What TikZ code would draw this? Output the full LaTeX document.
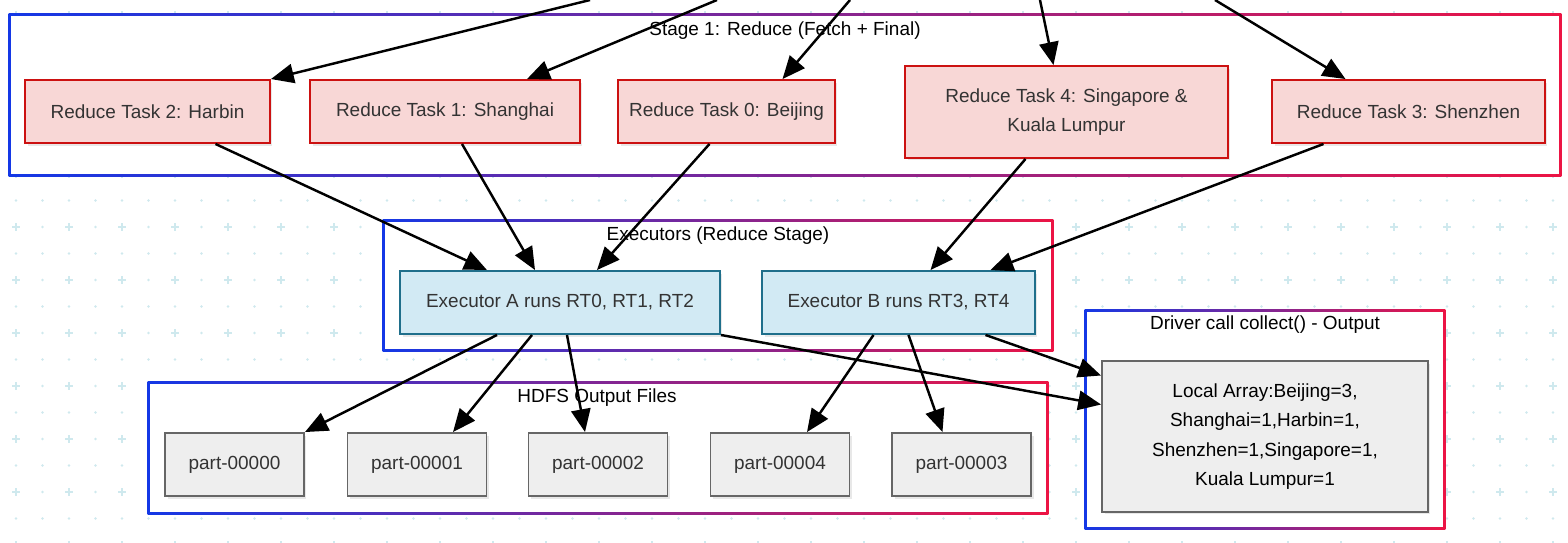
\documentclass[tikz,border=0pt]{standalone}
\usepackage{fontspec}
\setmainfont{Liberation Sans}
\usepackage{tikz}
\usetikzlibrary{calc, arrows.meta, shadows}

\definecolor{redfill}{HTML}{F8D7D6}
\definecolor{reddraw}{HTML}{CC1111}
\definecolor{bluefill}{HTML}{D2EAF4}
\definecolor{bluedraw}{HTML}{1F6F8B}
\definecolor{greyfill}{HTML}{EEEEEE}
\definecolor{greydraw}{HTML}{666666}
\definecolor{grpL}{HTML}{1438E6}
\definecolor{grpR}{HTML}{EC1444}
\definecolor{gridc}{HTML}{CFE9EE}
\definecolor{txt}{HTML}{333333}

\tikzset{
  box/.style={draw, line width=1.1pt, align=center, text=txt, inner sep=0pt,
    font=\fontsize{10.8}{16.7}\selectfont,
    drop shadow={opacity=0.18, shadow xshift=0.05cm, shadow yshift=-0.05cm}},
  rtask/.style={box, fill=redfill, draw=reddraw, minimum height=1.26cm},
  exec/.style={box, fill=bluefill, draw=bluedraw, minimum height=1.26cm},
  file/.style={box, fill=greyfill, draw=greydraw, minimum width=2.78cm, minimum height=1.26cm},
  grptitle/.style={font=\fontsize{10.8}{13}\selectfont, inner sep=0pt},
  arr/.style={line width=1.4pt, -{Triangle[length=13pt, width=11pt]}}
}

% gradient framed group: corners in px
\newcommand{\grpframe}[4]{%
  \shade[left color=grpL, right color=grpR] (#1-1.3,#2-1.3) rectangle (#3+1.3,#4+1.3);
  \fill[white] (#1+1.3,#2+1.3) rectangle (#3-1.3,#4-1.3);
}

\begin{document}
\begin{tikzpicture}[x=0.02cm, y=-0.02cm]
            \useasboundingbox (0,0) rectangle (1568,542);
            \fill[white] (0,0) rectangle (1568,542);
            % background grid
            \foreach \i in {0,...,59}{
              \foreach \j in {0,...,20}{
                \ifodd\i \fill[gridc] (16+26.5*\i,15+26.5*\j) circle (1.4);
                \else\ifodd\j \fill[gridc] (16+26.5*\i,15+26.5*\j) circle (1.4);
                \else \draw[gridc, line width=1.3pt] (12+26.5*\i,15+26.5*\j) -- (20+26.5*\i,15+26.5*\j)
                        (16+26.5*\i,11+26.5*\j) -- (16+26.5*\i,19+26.5*\j);
                \fi\fi
              }
            }
            % groups
            \grpframe{10}{15}{1560}{175}
            \grpframe{384}{221}{1052}{350}
            \grpframe{149}{383}{1047}{513}
            \grpframe{1086}{311}{1444}{528}
            \node[grptitle] (t_stage) at (785,31) {Stage 1: Reduce (Fetch + Final)};
            \node[grptitle] (t_exec) at (718,236) {Executors (Reduce Stage)};
            \node[grptitle] (t_hdfs) at (597,398) {HDFS Output Files};
            \node[grptitle] (t_drv) at (1265,325) {Driver call collect() - Output};
            % reduce tasks
            \node[rtask, minimum width=4.9cm] (hb) at (147.5,111.5) {Reduce Task 2: Harbin};
            \node[rtask, minimum width=5.4cm] (sh) at (445,111.5) {Reduce Task 1: Shanghai};
            \node[rtask, minimum width=4.34cm] (bj) at (726.5,111.5) {Reduce Task 0: Beijing};
            \node[rtask, minimum width=6.46cm, minimum height=1.84cm] (sg) at (1066.5,112) {Reduce Task 4: Singapore \&\\ Kuala Lumpur};
            \node[rtask, minimum width=5.46cm] (sz) at (1408.5,111.5) {Reduce Task 3: Shenzhen};
            % executors
            \node[exec, minimum width=6.4cm] (exa) at (560,302.5) {Executor A runs RT0, RT1, RT2};
            \node[exec, minimum width=5.46cm] (exb) at (898.5,302.5) {Executor B runs RT3, RT4};
            % output files
            \node[file] (p0) at (234.5,464.5) {part-00000};
            \node[file] (p1) at (417,464.5) {part-00001};
            \node[file] (p2) at (598,464.5) {part-00002};
            \node[file] (p4) at (780,464.5) {part-00004};
            \node[file] (p3) at (961.5,464.5) {part-00003};
            % driver result
            \node[box, fill=greyfill, draw=greydraw, text=black, minimum width=6.52cm, minimum height=3.02cm] (la) at (1265,436.5)
              {Local Array:Beijing=3,\\ Shanghai=1,Harbin=1,\\ Shenzhen=1,Singapore=1,\\ Kuala Lumpur=1};
            % incoming from the map stage (off picture)
            \coordinate (s0) at (590,0);
            \coordinate (s1) at (717,0);
            \coordinate (s2) at (850,0);
            \coordinate (s3) at (1040,0);
            \coordinate (s4) at (1215,0);
            \draw[arr] (s0) -- (hb.north east);
            \draw[arr] (s1) -- ($(sh.north)+(82,0)$);
            \draw[arr] (s2) -- ($(bj.north)+(56,0)$);
            \draw[arr] (s3) -- ($(sg.north)+(-13,0)$);
            \draw[arr] (s4) -- ($(sz.north)+(-63,0)$);
            % tasks to executors
            \draw[arr] ($(hb.south)+(68,0)$) -- ($(exa.north)+(-73,0)$);
            \draw[arr] ($(sh.south)+(17,0)$) -- ($(exa.north)+(-25,0)$);
            \draw[arr] ($(bj.south)+(-17,0)$) -- ($(exa.north)+(37,0)$);
            \draw[arr] ($(sg.south)+(-41,0)$) -- ($(exb.north)+(32,0)$);
            \draw[arr] ($(sz.south)+(-85,0)$) -- ($(exb.north)+(92,0)$);
            % executors to files and driver
            \draw[arr] ($(exa.south)+(-63,0)$) -- (p0.north east);
            \draw[arr] ($(exa.south)+(-28,0)$) -- ($(p1.north)+(36,0)$);
            \draw[arr] ($(exa.south)+(7,0)$) -- ($(p2.north)+(-13,0)$);
            \draw[arr] (exa.south east) -- ($(la.west)+(0,-32)$);
            \draw[arr] ($(exb.south)+(-25,0)$) -- ($(p4.north)+(27,0)$);
            \draw[arr] ($(exb.south)+(10,0)$) -- ($(p3.north)+(-19,0)$);
            \draw[arr] ($(exb.south)+(87,0)$) -- ($(la.west)+(0,-61)$);
\end{tikzpicture}
\end{document}
